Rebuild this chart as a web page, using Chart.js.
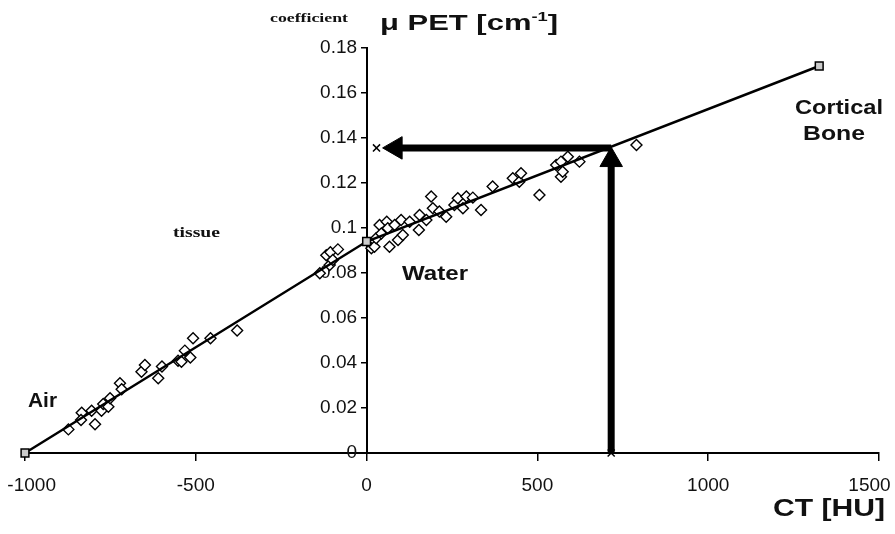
<!DOCTYPE html>
<html>
<head>
<meta charset="utf-8">
<script src="https://cdn.jsdelivr.net/npm/chart.js@4/dist/chart.umd.min.js"></script>
<style>
  body { margin: 0; background: #fff; }
  #wrap { width: 895px; height: 534px; }
</style>
</head>
<body>
<div id="wrap"><canvas id="ctChart"></canvas></div>
<script>
// measured samples: CT number (HU) vs PET attenuation coefficient (cm-1)
const sampleHU = [
  -873, -834, -836, -805, -795, -776, -771, -756, -751, -722, -717, -659, -649, -610,
  -599, -552, -542, -532, -516, -508, -457, -379, -137, -118, -108, -106, -99, -84,
  14, 23, 28, 38, 43, 59, 62, 67, 82, 92, 101, 106, 126, 153, 155, 175, 189, 194,
  213, 233, 257, 267, 282, 292, 311, 335, 369, 428, 447, 452, 506, 555, 569, 569,
  574, 589, 623, 790
];
const sampleMu = [
  0.0105, 0.0179, 0.0147, 0.0188, 0.0128, 0.0188, 0.0218, 0.0206, 0.0243, 0.031, 0.0283, 0.0361, 0.0391, 0.0332,
  0.0384, 0.041, 0.0406, 0.0455, 0.0424, 0.051, 0.051, 0.0544, 0.0799, 0.0879, 0.0836, 0.0892, 0.0858, 0.0905,
  0.091, 0.0917, 0.0954, 0.1013, 0.0976, 0.1028, 0.0999, 0.0917, 0.1013, 0.0947, 0.1036, 0.0969, 0.1028, 0.0991, 0.1058, 0.1036, 0.114, 0.1088,
  0.1073, 0.105, 0.1102, 0.1132, 0.1088, 0.114, 0.1135, 0.108, 0.1184, 0.1221, 0.1206, 0.1243, 0.1147, 0.128, 0.1295, 0.1228,
  0.125, 0.1317, 0.1295, 0.1369
];

// bilinear conversion: air, water, cortical bone
const fitHU = [-1000, 0, 1325];
const fitMu = [0, 0.094, 0.172];

// example lookup drawn with arrows
const lookupHU = 716;
const lookupMu = 0.1356;
const arrowTipHU = 85;      // centre of left arrow head
const arrowTipMu = 0.1302;  // centre of upward arrow head
const crossHU = [29, 716];
const crossMu = [0.1356, 0];

const xTicks = [-1000, -500, 0, 500, 1000, 1500];
const yTicks = [0, 0.02, 0.04, 0.06, 0.08, 0.1, 0.12, 0.14, 0.16, 0.18];

const toPoints = (xs, ys) => xs.map((x, i) => ({ x: x, y: ys[i] }));

document.addEventListener('DOMContentLoaded', () => {
  const ctx = document.getElementById('ctChart').getContext('2d');
  const sans = "'Liberation Sans', Arial, sans-serif";
  const serif = "'Liberation Serif', 'Times New Roman', serif";

  // text squeezed/stretched to the width it has in the scan
  function putText(c, text, x, y, font, width, align) {
    c.save();
    c.font = font;
    const w = c.measureText(text).width;
    const sx = width ? width / w : 1;
    c.translate(x, y);
    c.scale(sx, 1);
    c.textAlign = align || 'left';
    c.textBaseline = 'alphabetic';
    c.fillText(text, 0, 0);
    c.restore();
  }

  const labelsPlugin = {
    id: 'labels',
    afterDraw(chart) {
      const c = chart.ctx;
      c.fillStyle = '#111';
      putText(c, 'coefficient', 270, 22, 'bold 13px ' + serif, 78);
      putText(c, 'tissue', 173, 237, 'bold 14px ' + serif, 47);

      // y title with superscript
      c.save();
      c.font = 'bold 22px ' + sans;
      const a = 'μ PET [cm';
      const wa = c.measureText(a).width;
      c.font = 'bold 13px ' + sans;
      const ws = c.measureText('-1').width;
      c.font = 'bold 22px ' + sans;
      const wb = c.measureText(']').width;
      const sx = 178 / (wa + ws + wb);
      c.translate(380, 30);
      c.scale(sx, 1);
      c.fillText(a, 0, 0);
      c.font = 'bold 13px ' + sans;
      c.fillText('-1', wa, -9);
      c.font = 'bold 22px ' + sans;
      c.fillText(']', wa + ws, 0);
      c.restore();

      putText(c, 'CT [HU]', 773, 516, 'bold 24px ' + sans, 112);
      putText(c, 'Air', 28, 407, 'bold 20px ' + sans, 29);
      putText(c, 'Water', 402, 280, 'bold 20px ' + sans, 66);
      putText(c, 'Cortical', 795, 114, 'bold 20px ' + sans, 88);
      putText(c, 'Bone', 803, 140, 'bold 20px ' + sans, 62);
    }
  };

  new Chart(ctx, {
    type: 'scatter',
    data: {
      datasets: [
        {
          // upward arrow
          type: 'line',
          data: [{ x: lookupHU, y: 0 }, { x: lookupHU, y: arrowTipMu }],
          borderColor: '#000',
          borderWidth: 7,
          pointRadius: [0, 13],
          pointStyle: 'triangle',
          pointBackgroundColor: '#000',
          pointBorderColor: '#000',
          pointBorderWidth: 1
        },
        {
          // leftward arrow
          type: 'line',
          data: [{ x: lookupHU, y: lookupMu }, { x: arrowTipHU, y: lookupMu }],
          borderColor: '#000',
          borderWidth: 7,
          pointRadius: [0, 13],
          pointStyle: 'triangle',
          pointRotation: 270,
          pointBackgroundColor: '#000',
          pointBorderColor: '#000',
          pointBorderWidth: 1
        },
        {
          data: toPoints(crossHU, crossMu),
          pointStyle: 'crossRot',
          pointRadius: 5,
          pointBorderColor: '#000',
          pointBorderWidth: 1.5,
          clip: false
        },
        {
          type: 'line',
          data: toPoints(fitHU, fitMu),
          borderColor: '#000',
          borderWidth: 2.5,
          pointStyle: 'rect',
          pointRadius: 5.5,
          pointBackgroundColor: '#ccc',
          pointBorderColor: '#000',
          pointBorderWidth: 1.5,
          clip: false
        },
        {
          data: toPoints(sampleHU, sampleMu),
          pointStyle: 'rectRot',
          pointRadius: 5.5,
          pointBackgroundColor: '#fff',
          pointBorderColor: '#000',
          pointBorderWidth: 1.4
        }
      ]
    },
    options: {
      responsive: true,
      maintainAspectRatio: false,
      animation: false,
      layout: { padding: { left: 25, right: 16, top: 48, bottom: 81 } },
      plugins: { legend: { display: false }, tooltip: { enabled: false } },
      scales: {
        x: {
          type: 'linear',
          position: { y: 0 },
          min: xTicks[0],
          max: xTicks[xTicks.length - 1],
          afterBuildTicks: axis => { axis.ticks = xTicks.map(v => ({ value: v })); },
          afterFit: axis => { axis.paddingLeft = 0; axis.paddingRight = 0; },
          ticks: {
            color: '#111',
            font: { family: sans, size: 19 },
            padding: 14,
            maxRotation: 0,
            // nudge the two end labels inward so they stay on the canvas
            callback: (v, i, all) => {
              if (i === 0) return '\u2002\u2009' + v;
              if (i === all.length - 1) return v + '\u2002\u2002';
              return String(v);
            }
          },
          grid: { drawOnChartArea: false, drawTicks: true, tickLength: 7, color: '#000', lineWidth: 1.5 },
          border: { display: true, color: '#000', width: 2 }
        },
        y: {
          type: 'linear',
          position: { x: 0 },
          min: yTicks[0],
          max: yTicks[yTicks.length - 1],
          afterBuildTicks: axis => { axis.ticks = yTicks.map(v => ({ value: v })); },
          afterFit: axis => { axis.paddingTop = 0; axis.paddingBottom = 0; },
          ticks: {
            color: '#111',
            font: { family: sans, size: 19 },
            // labels of a centred axis sit right against the line; an en space pushes them off it
            callback: v => String(+v.toFixed(2)) + '\u2002'
          },
          grid: { drawOnChartArea: false, drawTicks: true, tickLength: 5, color: '#000', lineWidth: 1.5 },
          border: { display: true, color: '#000', width: 2 }
        }
      }
    },
    plugins: [labelsPlugin]
  });
});
</script>
</body>
</html>
